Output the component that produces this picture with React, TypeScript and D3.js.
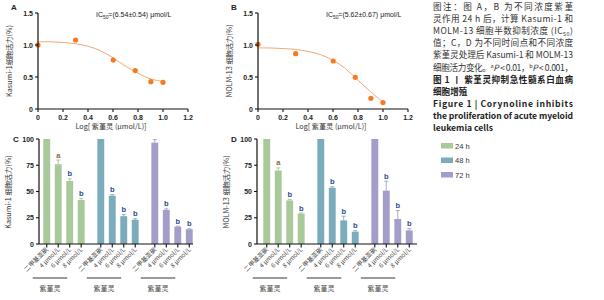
import React from "react";
import * as d3 from "d3";

// ---------- data ----------
const logDose = [0, 0.301, 0.602, 0.778, 0.903, 1.0];
const viabilityA = [1.0, 1.078, 0.766, 0.6, 0.427, 0.417];
const errA = [0, 0, 0.04, 0.015, 0.01, 0.01];
const viabilityB = [1.01, 0.865, 0.75, 0.495, 0.167, 0.1];
const errB = [0, 0, 0.01, 0.01, 0.01, 0.01];
const fitX = [0, 0.1, 0.2, 0.3, 0.4, 0.5, 0.6, 0.7, 0.8, 0.9, 1.0];
const fitA = [1.05, 1.05, 1.04, 1.02, 0.98, 0.91, 0.8, 0.67, 0.56, 0.47, 0.43];
const fitB = [0.955, 0.953, 0.945, 0.93, 0.9, 0.85, 0.76, 0.63, 0.45, 0.27, 0.11];
const ic50A = "=(6.54±0.54) μmol/L";
const ic50B = "=(5.62±0.67) μmol/L";
const xTicksCurve = [0, 0.2, 0.4, 0.6, 0.8, 1.0, 1.2];
const yTicksCurve = [0, 0.5, 1.0, 1.5];

const times = ["24 h", "48 h", "72 h"];
const doses = ["二甲基亚砜", "4 μmol/L", "6 μmol/L", "8 μmol/L"];
const colors = ["#a9c99a", "#7bacbc", "#a29ec9"];
const barC = [
  [100, 76, 60, 42],
  [100, 46, 26.5, 23],
  [96.5, 32.5, 16.5, 14],
];
const errC = [
  [0, 4, 2, 1.5],
  [0, 1, 1.5, 1],
  [3, 1, 0.5, 0.5],
];
const barD = [
  [100, 70, 41.5, 29],
  [100, 53.5, 22.5, 11.7],
  [100, 50.8, 23.8, 13],
];
const errD = [
  [0, 2.5, 1, 0.5],
  [0, 1, 4, 1],
  [0, 9, 8, 1.6],
];
const lettersC = [
  ["", "a", "b", "b"],
  ["", "b", "b", "b"],
  ["", "b", "b", "b"],
];
const lettersD = [
  ["", "a", "b", "b"],
  ["", "b", "b", "b"],
  ["", "b", "b", "b"],
];
const yTicksBar = [0, 25, 50, 75, 100];

const FONT = "'Liberation Sans', Arial, 'Noto Sans CJK SC', sans-serif";
const CJK = "'Noto Sans CJK SC', 'Liberation Sans', sans-serif";

function CurvePanel(props: {
  left: number;
  letter: string;
  ylabel: string;
  values: number[];
  errs: number[];
  fit: number[];
  ic: string;
  icX: number;
}) {
  const { left, letter, ylabel, values, errs, fit, ic, icX } = props;
  const x = d3.scaleLinear().domain([0, 1.2]).range([left, left + 150]);
  const y = d3.scaleLinear().domain([0, 1.5]).range([109, 13]);
  const line = d3
    .line<number>()
    .x((_, i) => x(fitX[i]))
    .y((d) => y(d))
    .curve(d3.curveCatmullRom);
  return (
    <g fontFamily={FONT}>
      <text x={left - 27} y={10} fontSize={8} fontWeight={700} fill="#222">
        {letter}
      </text>
      <path d={line(fit) || ""} fill="none" stroke="#f5a66e" strokeWidth={1} />
      {values.map((v, i) => (
        <g key={i}>
          {errs[i] > 0 && (
            <line x1={x(logDose[i])} x2={x(logDose[i])} y1={y(v - errs[i])} y2={y(v + errs[i])} stroke="#f0a070" strokeWidth={0.8} />
          )}
          <circle cx={x(logDose[i])} cy={y(v)} r={2.6} fill="#f47b22" />
        </g>
      ))}
      <line x1={left} x2={left} y1={13} y2={109} stroke="#111" strokeWidth={1.2} />
      <line x1={left} x2={left + 150} y1={109} y2={109} stroke="#111" strokeWidth={1.2} />
      {yTicksCurve.map((t) => (
        <g key={t}>
          <line x1={left - 3} x2={left} y1={y(t)} y2={y(t)} stroke="#111" strokeWidth={1.1} />
          <text x={left - 5} y={y(t) + 2.5} fontSize={7} fontWeight={700} textAnchor="end" fill="#222">
            {t === 0 ? "0" : t.toFixed(1)}
          </text>
        </g>
      ))}
      {xTicksCurve.map((t) => (
        <g key={t}>
          <line x1={x(t)} x2={x(t)} y1={109} y2={112} stroke="#111" strokeWidth={1.1} />
          <text x={x(t)} y={120} fontSize={7} fontWeight={700} textAnchor="middle" fill="#222">
            {t === 0 ? "0" : t.toFixed(1)}
          </text>
        </g>
      ))}
      <text x={left + 73} y={128.5} fontSize={7.2} textAnchor="middle" fill="#333" fontFamily={CJK}>
        Log[ 紫堇灵 (μmol/L)]
      </text>
      <text
        transform={`translate(${left - 26},61) rotate(-90)`}
        fontSize={7.2}
        textAnchor="middle"
        fill="#333"
        fontFamily={CJK}
      >
        {ylabel}
      </text>
      <text x={icX} y={17} fontSize={7} fill="#222">
        IC<tspan fontSize={4.8} dy={1.8}>50</tspan>
        <tspan dy={-1.8}>{ic}</tspan>
      </text>
    </g>
  );
}

function BarPanel(props: {
  axisX: number;
  axisRight: number;
  range: [number, number];
  letter: string;
  ylabel: string;
  values: number[][];
  errs: number[][];
  letters: string[][];
}) {
  const { axisX, axisRight, range, letter, ylabel, values, errs, letters } = props;
  const y = d3.scaleLinear().domain([0, 100]).range([244, 139]);
  const outer = d3.scaleBand<string>().domain(times).range(range).paddingInner(0.15).paddingOuter(0);
  const inner = d3
    .scaleBand<string>()
    .domain(doses)
    .range([0, outer.bandwidth()])
    .paddingInner(0.4)
    .paddingOuter(0.2);
  const bw = inner.bandwidth();
  return (
    <g fontFamily={FONT}>
      <text x={axisX - 26} y={142} fontSize={8} fontWeight={700} fill="#222">
        {letter}
      </text>
      <text
        transform={`translate(${axisX - 28},192) rotate(-90)`}
        fontSize={7.2}
        textAnchor="middle"
        fill="#333"
        fontFamily={CJK}
      >
        {ylabel}
      </text>
      {times.map((t, g) => {
        const gx = outer(t) || 0;
        const c0 = gx + (inner(doses[0]) || 0) + bw / 2;
        const c3 = gx + (inner(doses[3]) || 0) + bw / 2;
        return (
          <g key={t}>
            {doses.map((d, i) => {
              const bx = gx + (inner(d) || 0);
              const cx = bx + bw / 2;
              const v = values[g][i];
              const e = errs[g][i];
              const top = v + e;
              return (
                <g key={d}>
                  <rect x={bx} y={y(v)} width={bw} height={244 - y(v)} fill={colors[g]} />
                  {e > 0 && (
                    <g stroke={d3.color(colors[g])!.darker(0.2).toString()} strokeWidth={0.8}>
                      <line x1={cx} x2={cx} y1={y(v)} y2={y(top)} />
                      <line x1={cx - 2} x2={cx + 2} y1={y(top)} y2={y(top)} />
                    </g>
                  )}
                  {letters[g][i] && (
                    <text
                      x={cx}
                      y={y(top) - 2.5}
                      fontSize={7.5}
                      fontWeight={700}
                      textAnchor="middle"
                      fill={letters[g][i] === "a" ? "#8a6d3b" : "#2b4a8a"}
                    >
                      {letters[g][i]}
                    </text>
                  )}
                  <line x1={cx} x2={cx} y1={244} y2={247.5} stroke="#111" strokeWidth={1.1} />
                  <text
                    transform={`translate(${cx + 2},${250}) rotate(-45)`}
                    fontSize={6.2}
                    textAnchor="end"
                    fill="#444"
                    fontFamily={CJK}
                  >
                    {d}
                  </text>
                </g>
              );
            })}
            <line x1={c0 - 14} x2={c3 - 14} y1={278} y2={278} stroke="#9a9a9a" strokeWidth={2} />
            <text x={(c0 + c3) / 2 - 14} y={291} fontSize={7} textAnchor="middle" fill="#444" fontFamily={CJK}>
              紫堇灵
            </text>
          </g>
        );
      })}
      <line x1={axisX} x2={axisX} y1={139} y2={244} stroke="#111" strokeWidth={1.2} />
      <line x1={axisX} x2={axisRight} y1={244} y2={244} stroke="#111" strokeWidth={1.2} />
      {yTicksBar.map((t) => (
        <g key={t}>
          <line x1={axisX - 3} x2={axisX} y1={y(t)} y2={y(t)} stroke="#111" strokeWidth={1.1} />
          <text x={axisX - 5} y={y(t) + 2.5} fontSize={7} fontWeight={700} textAnchor="end" fill="#222">
            {t}
          </text>
        </g>
      ))}
    </g>
  );
}

const captionLines: { parts: React.ReactNode; bold?: boolean; justify: boolean }[] = [
  { parts: "图注：图 A，B 为不同浓度紫堇", justify: true },
  { parts: "灵作用 24 h 后，计算 Kasumi-1 和", justify: true },
  { parts: <>MOLM-13 细胞半数抑制浓度 (IC<tspan fontSize={5.5} dy={1.5}>50</tspan><tspan dy={-1.5}>)</tspan></>, justify: true },
  { parts: "值；C，D 为不同时间点和不同浓度", justify: true },
  { parts: "紫堇灵处理后 Kasumi-1 和 MOLM-13", justify: true },
  {
    parts: (
      <>
        细胞活力变化。<tspan fontSize={5.5} dy={-3}>a</tspan>
        <tspan dy={3} fontStyle="italic">P</tspan> &lt; 0.01，<tspan fontSize={5.5} dy={-3}>b</tspan>
        <tspan dy={3} fontStyle="italic">P</tspan> &lt; 0.001，
      </>
    ),
    justify: true,
  },
  { parts: "图 1 丨 紫堇灵抑制急性髓系白血病", bold: true, justify: true },
  { parts: "细胞增殖", bold: true, justify: false },
  { parts: "Figure 1 | Corynoline inhibits", bold: true, justify: true },
  { parts: "the proliferation of acute myeloid", bold: true, justify: true },
  { parts: "leukemia cells", bold: true, justify: false },
];

export default function App() {
  return (
    <svg
      width={604}
      height={300}
      style={{ position: "absolute", left: 0, top: 0, background: "#fff" }}
    >
      <rect width={604} height={300} fill="#fff" />
      <CurvePanel left={38} letter="A" ylabel="Kasumi-1细胞活力(%)" values={viabilityA} errs={errA} fit={fitA} ic={ic50A} icX={96} />
      <CurvePanel left={258} letter="B" ylabel="MOLM-13 细胞活力(%)" values={viabilityB} errs={errB} fit={fitB} ic={ic50B} icX={326} />
      <BarPanel axisX={39} axisRight={193} range={[41, 195]} letter="C" ylabel="Kasumi-1 细胞活力(%)" values={barC} errs={errC} letters={lettersC} />
      <BarPanel axisX={257} axisRight={417} range={[261, 415]} letter="D" ylabel="MOLM-13 细胞活力(%)" values={barD} errs={errD} letters={lettersD} />
      <g fontFamily={CJK} fill="#333">
        {captionLines.map((l, i) => (
          <text
            key={i}
            x={433}
            y={10 + i * 12.1}
            fontSize={8.6}
            fontWeight={l.bold ? 700 : 400}
            textLength={l.justify ? 140 : undefined}
            lengthAdjust={l.justify ? "spacing" : undefined}
            fill={l.bold ? "#222" : "#333"}
          >
            {l.parts}
          </text>
        ))}
      </g>
      <g fontFamily={FONT}>
        {times.map((t, i) => (
          <g key={t}>
            <rect x={441} y={143 + i * 14.5} width={12} height={5.5} fill={colors[i]} />
            <text x={455} y={148.5 + i * 14.5} fontSize={7.5} fill="#333">
              {t}
            </text>
          </g>
        ))}
      </g>
    </svg>
  );
}
